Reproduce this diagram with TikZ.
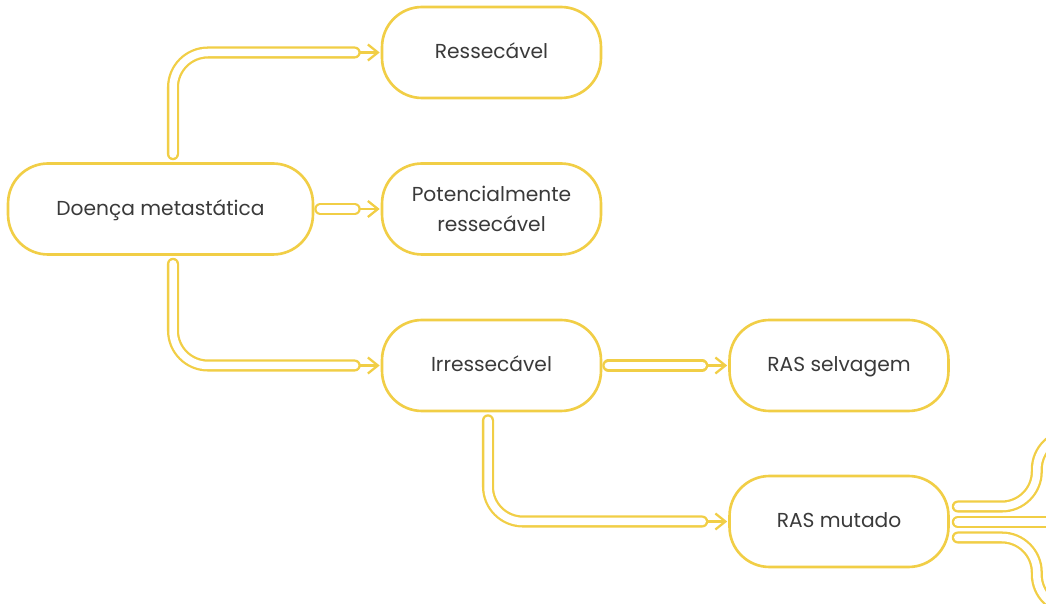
\documentclass[tikz,border=0pt]{standalone}
\usepackage{fontspec}
\setmainfont{Poppins}
\usetikzlibrary{arrows.meta, calc}
\definecolor{oncogold}{HTML}{F1CE46}
\definecolor{oncotext}{HTML}{3A3A3A}
\tikzset{
  box/.style={rectangle, rounded corners=0.8cm, draw=oncogold, line width=1.5pt, fill=white,
              align=center, minimum width=4.38cm, minimum height=1.82cm, inner sep=2pt,
              text=oncotext, font=\fontsize{11.5}{17.5}\selectfont},
  boxs/.style={box, text height=0.95em, text depth=0.25em},
  boxw/.style={boxs, minimum width=6.1cm},
  pipe/.style={draw=oncogold, line width=1.3pt, double=white, double distance=0.15cm,
               line cap=round, rounded corners=0.7cm},
  tip/.style={-{Straight Barb[length=0.2cm, width=0.32cm]}, draw=oncogold, line width=1.3pt},
}
\begin{document}
\begin{tikzpicture}[x=0.02cm,y=-0.02cm]
  \useasboundingbox (0,0) rectangle (1046,604);
  \clip (0,0) rectangle (1046,604);

  \node[boxw] (doenca) at (160.5,209) {Doença metastática};
  \node[boxs] (resc) at (491.5,52.5) {Ressecável};
  \node[box] (pot) at (491.5,209) {Potencialmente\\ressecável};
  \node[boxs] (irr) at (491.5,365.5) {Irressecável};
  \node[boxs] (selv) at (839,365.5) {RAS selvagem};
  \node[boxs] (mut) at (839,521.5) {RAS mutado};

  % arrow stubs first, pipes on top
  \foreach \n in {resc, pot, irr, selv, mut}{
    \draw[tip] ($(\n.west)+(-26,0)$) -- ($(\n.west)+(-1,0)$);
  }
  \draw[pipe] ($(doenca.north)+(12.5,-8)$) |- ($(resc.west)+(-26,0)$);
  \draw[pipe] ($(doenca.east)+(6,0)$) -- ($(pot.west)+(-26,0)$);
  \draw[pipe] ($(doenca.south)+(12.5,8)$) |- ($(irr.west)+(-26,0)$);
  \draw[pipe] ($(irr.east)+(6,0)$) -- ($(selv.west)+(-26,0)$);
  \draw[pipe] ($(irr.south)+(-3.5,8)$) |- ($(mut.west)+(-26,0)$);

  % branches leaving the picture
  \draw[pipe] ($(mut.east)+(8,-15)$) -- ++(79,0) -- ++(0,-72) -- ++(45,0);
  \draw[pipe] ($(mut.east)+(8,0.5)$) -- ++(130,0);
  \draw[pipe] ($(mut.east)+(8,16)$) -- ++(79,0) -- ++(0,72) -- ++(45,0);
\end{tikzpicture}
\end{document}
